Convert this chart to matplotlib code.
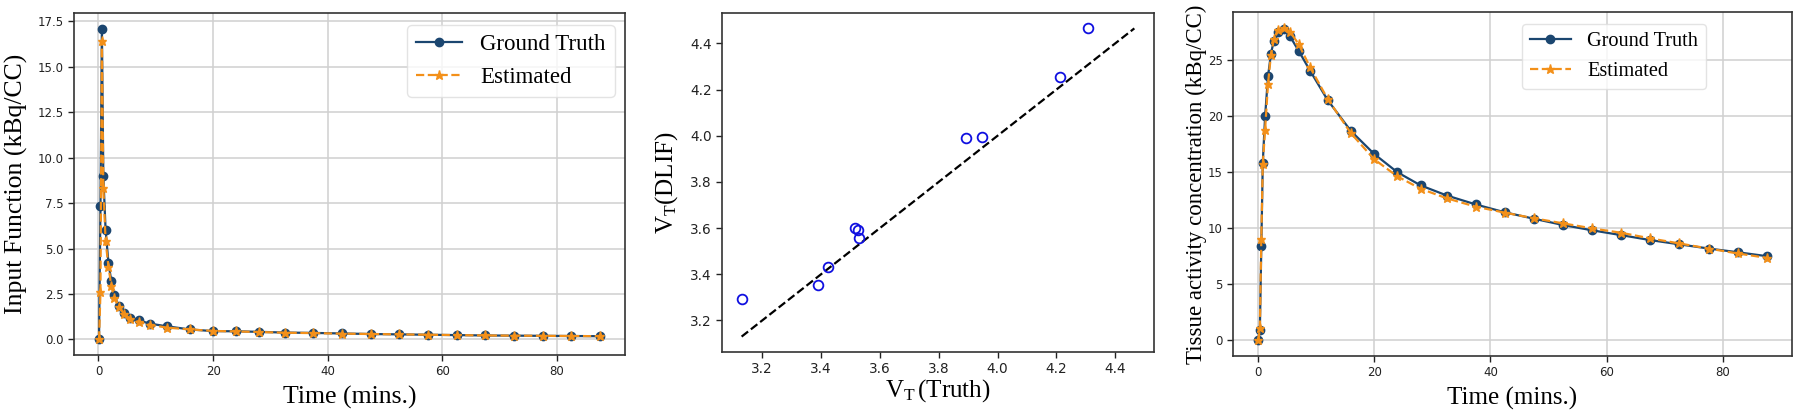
import matplotlib
matplotlib.use("Agg")
import matplotlib.pyplot as plt

plt.rcParams['mathtext.fontset'] = 'custom'
plt.rcParams['mathtext.rm'] = 'Liberation Serif'
plt.rcParams['mathtext.it'] = 'Liberation Serif:italic'

# ---- data ----
time_min = [0.1, 0.35, 0.6, 0.85, 1.25, 1.75, 2.25, 2.75, 3.5, 4.5, 5.5, 7.0, 9.0, 12.0,
            16.0, 20.0, 24.0, 28.0, 32.5, 37.5, 42.5, 47.5, 52.5, 57.5, 62.5, 67.5,
            72.5, 77.5, 82.5, 87.5]

input_truth = [0.0, 7.33, 17.1, 9.0, 6.0, 4.2, 3.2, 2.45, 1.85, 1.45, 1.2, 1.05, 0.87, 0.72,
               0.55, 0.46, 0.45, 0.42, 0.38, 0.36, 0.33, 0.30, 0.28, 0.26, 0.24, 0.22,
               0.21, 0.20, 0.19, 0.18]
input_est = [0.0, 2.6, 16.4, 8.35, 5.4, 4.0, 2.93, 2.29, 1.8, 1.4, 1.15, 0.97, 0.8, 0.65,
             0.55, 0.47, 0.44, 0.41, 0.37, 0.35, 0.32, 0.30, 0.28, 0.26, 0.24, 0.22,
             0.21, 0.20, 0.19, 0.18]

tac_truth = [0.0, 0.95, 8.42, 15.8, 19.95, 23.5, 25.5, 26.7, 27.5, 27.75, 27.1, 25.8, 24.0,
             21.4, 18.65, 16.6, 14.97, 13.8, 12.9, 12.1, 11.4, 10.83, 10.27, 9.8, 9.37,
             8.93, 8.55, 8.18, 7.85, 7.5]
tac_est = [0.0, 1.1, 9.05, 15.7, 18.75, 22.86, 25.4, 26.8, 27.6, 27.85, 27.5, 26.4, 24.3,
           21.5, 18.45, 16.13, 14.6, 13.5, 12.65, 11.9, 11.37, 10.87, 10.42, 9.97, 9.58,
           9.08, 8.63, 8.18, 7.74, 7.35]

vt_truth = [3.130, 3.391, 3.425, 3.515, 3.526, 3.528, 3.893, 3.947, 4.212, 4.308]
vt_dlif = [3.294, 3.352, 3.431, 3.600, 3.593, 3.559, 3.991, 3.994, 4.255, 4.465]

legend_labels = ["Ground Truth", "Estimated"]

# ---- styles ----
C_GT = '#1b4670'
C_EST = '#f39019'
SERIF = 'Liberation Serif'
GRID = dict(color='#d0d0d0', linewidth=1.1)

fig = plt.figure(figsize=(18, 4.16), dpi=100)
ax1 = fig.add_axes([0.0411, 0.1466, 0.3061, 0.8222])
ax2 = fig.add_axes([0.4011, 0.1538, 0.2400, 0.8150])
ax3 = fig.add_axes([0.6850, 0.1442, 0.3106, 0.8270])

for ax in (ax1, ax2, ax3):
    for s in ax.spines.values():
        s.set_color('#333333')
        s.set_linewidth(1.2)
    ax.tick_params(direction='out', length=4, width=1, colors='#222222')

# Panel 1
ax1.plot(time_min, input_truth, '-o', color=C_GT, lw=1.6, ms=6, label=legend_labels[0], zorder=3)
ax1.plot(time_min, input_est, '--*', color=C_EST, lw=1.6, ms=6.5, label=legend_labels[1], zorder=4)
ax1.grid(True, **GRID)
ax1.set_axisbelow(True)
ax1.set_xticks([0, 20, 40, 60, 80])
ax1.set_yticks([0, 2.5, 5, 7.5, 10, 12.5, 15, 17.5])
ax1.set_yticklabels(['0.0', '2.5', '5.0', '7.5', '10.0', '12.5', '15.0', '17.5'])
ax1.tick_params(labelsize=8.5)
ax1.set_xlabel('Time (mins.)', fontsize=18.5, family=SERIF)
ax1.set_ylabel('Input Function (kBq/CC)', fontsize=18.5, family=SERIF)
ax1.xaxis.set_label_coords(0.5, -0.09)
ax1.yaxis.set_label_coords(-0.083, 0.5)
ax1.legend(loc='upper right', bbox_to_anchor=(0.982, 0.965), borderaxespad=0,
           prop={'family': SERIF, 'size': 16.5}, edgecolor='#dddddd')

# Panel 2
ax2.plot(vt_truth, vt_dlif, 'o', mfc='none', mec='#1010e0', ms=7, mew=1.3, zorder=3)
lo = min(min(vt_truth), min(vt_dlif))
hi = max(max(vt_truth), max(vt_dlif))
ax2.plot([lo, hi], [lo, hi], 'k--', lw=1.6, zorder=2)
ax2.set_xticks([3.2, 3.4, 3.6, 3.8, 4.0, 4.2, 4.4])
ax2.set_yticks([3.2, 3.4, 3.6, 3.8, 4.0, 4.2, 4.4])
ax2.tick_params(labelsize=9.8)
ax2.set_xlabel(r'$\mathrm{V_T}\,$(Truth)', fontsize=18, family=SERIF)
ax2.set_ylabel(r'$\mathrm{V_T}$(DLIF)', fontsize=18, family=SERIF)
ax2.xaxis.set_label_coords(0.5, -0.075)
ax2.yaxis.set_label_coords(-0.097, 0.5)

# Panel 3
ax3.plot(time_min, tac_truth, '-o', color=C_GT, lw=1.6, ms=6, label=legend_labels[0], zorder=3)
ax3.plot(time_min, tac_est, '--*', color=C_EST, lw=1.6, ms=6.5, label=legend_labels[1], zorder=4)
ax3.grid(True, **GRID)
ax3.set_axisbelow(True)
ax3.set_xticks([0, 20, 40, 60, 80])
ax3.set_yticks([0, 5, 10, 15, 20, 25])
ax3.tick_params(labelsize=8.5)
ax3.set_xlabel('Time (mins.)', fontsize=18, family=SERIF)
ax3.set_ylabel('Tissue activity concentration (kBq/CC)', fontsize=16.5, family=SERIF)
ax3.xaxis.set_label_coords(0.5, -0.09)
ax3.yaxis.set_label_coords(-0.047, 0.5)
ax3.legend(loc='upper right', bbox_to_anchor=(0.846, 0.965), borderaxespad=0,
           prop={'family': SERIF, 'size': 14.6}, edgecolor='#dddddd')

fig.savefig('out.png', dpi=100)
